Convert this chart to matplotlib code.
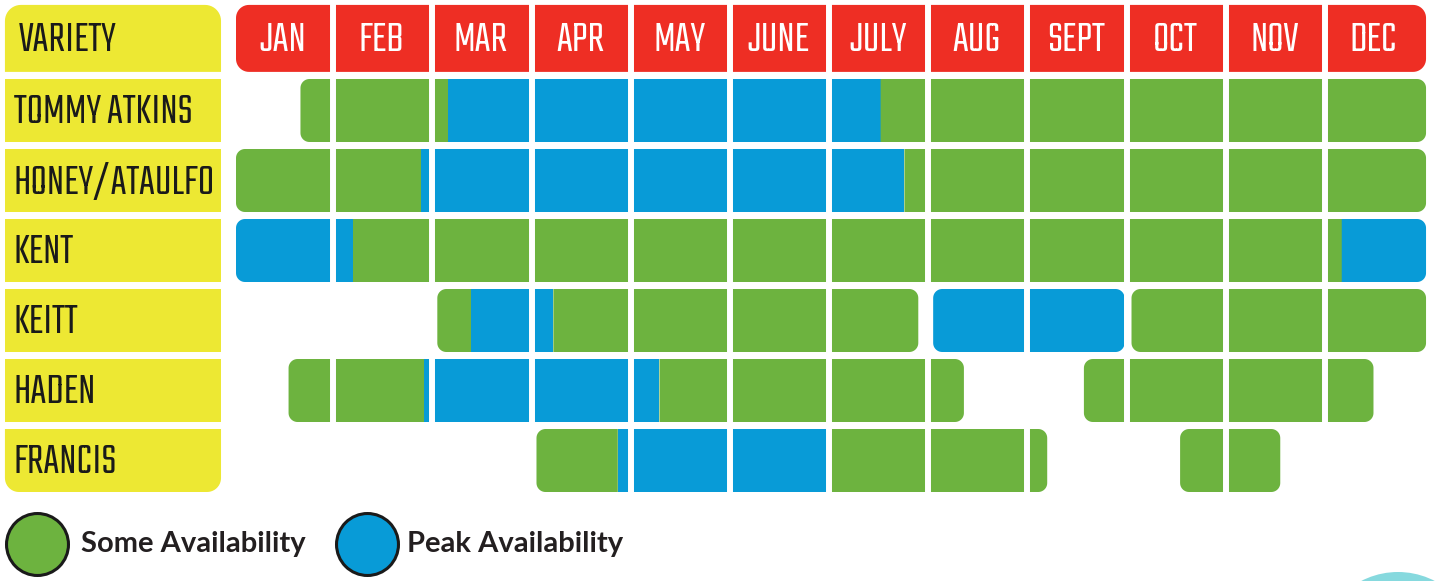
import numpy as np
import matplotlib.pyplot as plt
from matplotlib.patches import Polygon, Ellipse

months = ['JAN', 'FEB', 'MAR', 'APR', 'MAY', 'JUNE', 'JULY', 'AUG', 'SEPT', 'OCT', 'NOV', 'DEC']
varieties = ['TOMMY ATKINS', 'HONEY/ATAULF0', 'KENT', 'KEITT', 'HADEN', 'FRANCIS']

# availability per variety, in months from Jan 1 (0) to Dec 31 (12)
# each run is a continuous bar made of (start, end, kind) segments
tommy_atkins = [[(0.65, 2.14, 'some'), (2.14, 6.50, 'peak'), (6.50, 12.0, 'some')]]
honey_ataulfo = [[(0.0, 1.87, 'some'), (1.87, 6.74, 'peak'), (6.74, 12.0, 'some')]]
kent = [[(0.0, 1.18, 'peak'), (1.18, 11.15, 'some'), (11.15, 12.0, 'peak')]]
keitt = [[(2.03, 2.37, 'some'), (2.37, 3.20, 'peak'), (3.20, 6.88, 'some')],
         [(7.03, 8.96, 'peak')],
         [(9.03, 12.0, 'some')]]
haden = [[(0.53, 1.90, 'some'), (1.90, 4.27, 'peak'), (4.27, 7.34, 'some')],
         [(8.55, 11.47, 'some')]]
francis = [[(3.03, 3.85, 'some'), (3.85, 5.98, 'peak'), (5.98, 8.18, 'some')],
           [(9.52, 10.53, 'some')]]
schedule = [tommy_atkins, honey_ataulfo, kent, keitt, haden, francis]

legend_labels = ['Some Availability', 'Peak Availability']

GREEN = '#6DB33F'
BLUE = '#089BD7'
RED = '#EE2E24'
YELLOW = '#EDE833'
TEAL = '#86D9DE'
colors = {'some': GREEN, 'peak': BLUE}

PX, PY = 99.17, 70.0  # pixels per month / per row
TITLE_FONT = ['Teko', 'DejaVu Sans']
TITLE_SIZE = 33
TEXT_LIFT = 0.03  # nudge the display font up a little


def rbox(ax, x0, x1, yc, h, color, tl=0, tr=0, br=0, bl=0):
    # box with per-corner radius given in pixels (y axis points down)
    top, bot = yc - h / 2, yc + h / 2
    corners = [(x0 + tl / PX, top + tl / PY, tl, np.pi, 1.5 * np.pi),
               (x1 - tr / PX, top + tr / PY, tr, 1.5 * np.pi, 2 * np.pi),
               (x1 - br / PX, bot - br / PY, br, 0, 0.5 * np.pi),
               (x0 + bl / PX, bot - bl / PY, bl, 0.5 * np.pi, np.pi)]
    pts = []
    for cx, cy, r, a0, a1 in corners:
        t = np.linspace(a0, a1, 12)
        pts += list(zip(cx + r / PX * np.cos(t), cy + r / PY * np.sin(t)))
    ax.add_patch(Polygon(pts, closed=True, facecolor=color, edgecolor='none'))


fig = plt.figure(figsize=(14.37, 5.81), dpi=100)
ax = fig.add_axes([0, 0, 1, 1])
ax.set_xlim(-236 / PX, (1437 - 236) / PX)
ax.set_ylim(1 + (581 - 110.5) / PY, 1 - 110.5 / PY)
ax.axis('off')

bar_h = 0.9
head_y, head_h = -0.03, 0.957
lab_x0, lab_x1 = -2.33, -0.151

# header row
rbox(ax, lab_x0, lab_x1, head_y, head_h, YELLOW, tl=16, tr=16)
ax.text(lab_x0 + 0.14, head_y - TEXT_LIFT, 'VARIETY', family=TITLE_FONT, fontsize=TITLE_SIZE,
        color='#1a1a1a', va='center_baseline', ha='left')
rbox(ax, 0, 12, head_y, head_h, RED, 13, 13, 13, 13)
for i, m in enumerate(months):
    ax.text(i + 0.47, head_y - TEXT_LIFT, m, family=TITLE_FONT, fontsize=TITLE_SIZE,
            color='white', va='center_baseline', ha='center')

# variety rows
for row, (name, runs) in enumerate(zip(varieties, schedule), start=1):
    last = row == len(varieties)
    rbox(ax, lab_x0, lab_x1, row, bar_h, YELLOW,
         bl=14 if last else 0, br=14 if last else 0)
    ax.text(lab_x0 + 0.09, row - TEXT_LIFT, name, family=TITLE_FONT, fontsize=TITLE_SIZE,
            color='#1a1a1a', va='center_baseline', ha='left')
    for run in runs:
        for k, (s, e, kind) in enumerate(run):
            lr = 9 if k == 0 else 0
            rr = 9 if k == len(run) - 1 else 0
            rbox(ax, s, e, row, bar_h, colors[kind], tl=lr, bl=lr, tr=rr, br=rr)

# white month separators
ax.vlines(np.arange(1, 12) - 0.02, -0.55, len(varieties) + 0.5,
          colors='white', linewidth=4.3)

# legend
leg_y = 1 + (544 - 110.5) / PY
for (cx, tx), col, lab in zip([(-2.007, -1.563), (1.321, 1.724)], [GREEN, BLUE], legend_labels):
    ax.scatter([cx], [leg_y], s=1990, color=col, edgecolors='#1a1a1a',
               linewidths=2.2, zorder=3)
    ax.text(tx, leg_y, lab, family=['Lato', 'DejaVu Sans'], fontweight='bold',
            fontsize=21, color='#231F20', va='center', ha='left')

# decorative corner circle
ax.add_patch(Ellipse(((1398 - 236) / PX, 1 + (652 - 110.5) / PY),
                     160 / PX, 160 / PY, facecolor=TEAL, edgecolor='none'))

fig.savefig('out.png', dpi=100)
